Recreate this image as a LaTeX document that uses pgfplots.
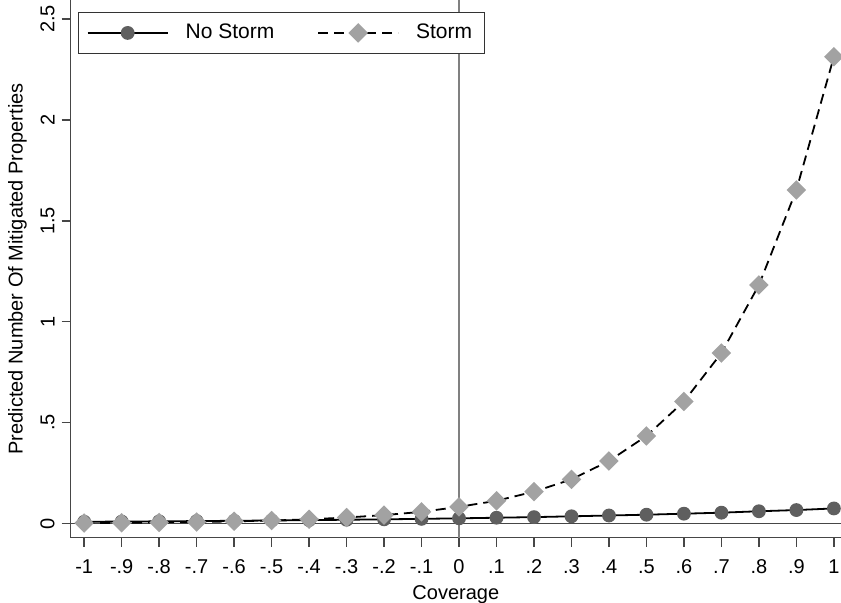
\documentclass[border=0pt]{standalone}
\usepackage{fontspec}
\setmainfont{Liberation Sans}
\usepackage{pgfplots}
\pgfplotsset{compat=1.18}

\definecolor{nostorm}{RGB}{95,95,95}
\definecolor{storm}{RGB}{162,162,162}
\definecolor{axisgray}{RGB}{70,70,70}

\begin{document}
\begin{tikzpicture}
\begin{axis}[
    scale only axis,
    width=385.15pt, height=268.85pt,
    xmin=-1.036, xmax=1.019,
    ymin=-0.070, ymax=2.594,
    axis x line*=bottom, axis y line*=left,
    axis line style={axisgray, line width=0.7pt},
    tick align=outside,
    major tick length=4.5pt,
    tick style={axisgray, line width=0.7pt},
    xtick={-1,-0.9,-0.8,-0.7,-0.6,-0.5,-0.4,-0.3,-0.2,-0.1,0,0.1,0.2,0.3,0.4,0.5,0.6,0.7,0.8,0.9,1},
    xticklabels={-1,-.9,-.8,-.7,-.6,-.5,-.4,-.3,-.2,-.1,0,.1,.2,.3,.4,.5,.6,.7,.8,.9,1},
    ytick={0,0.5,1,1.5,2,2.5},
    yticklabels={0,.5,1,1.5,2,2.5},
    tick label style={font=\fontsize{10}{12}\selectfont},
    xticklabel style={yshift=-3pt},
    yticklabel style={rotate=90, anchor=south},
    xlabel={Coverage},
    ylabel={Predicted Number Of Mitigated Properties},
    label style={font=\fontsize{10}{12}\selectfont},
    xlabel style={yshift=1pt},
    legend style={
        at={(axis description cs:0,1)}, anchor=north west,
        xshift=3.8pt, yshift=-5.8pt,
        draw=black!80, fill=white, line width=0.5pt,
        legend columns=2,
        /tikz/every odd column/.append style={column sep=6.5pt},
        /tikz/every even column/.append style={column sep=19.5pt},
        font=\fontsize{10.5}{12}\selectfont,
        inner xsep=4pt, inner ysep=4pt,
    },
    legend cell align={left},
    legend image code/.code={
        \draw[mark repeat=2, mark phase=2]
            plot coordinates {(0pt,0pt) (20pt,0pt) (40pt,0pt)};
    },
]

\coordinate (sw) at (rel axis cs:0,0);
\coordinate (ne) at (rel axis cs:1,1);

% reference lines at x=0 and y=0
\draw[gray, line width=0.8pt] (axis cs:0,-0.070) -- (axis cs:0,2.594);
\draw[axisgray, line width=0.8pt] (axis cs:-1.036,0) -- (axis cs:1.019,0);

% No Storm
\addplot[black, line width=0.9pt, mark=*, mark size=3pt,
    mark options={solid, fill=nostorm, draw=nostorm}] coordinates {
    (-1,0.009) (-0.9,0.010) (-0.8,0.0111) (-0.7,0.0124) (-0.6,0.0138)
    (-0.5,0.0153) (-0.4,0.017) (-0.3,0.019) (-0.2,0.021) (-0.1,0.0234)
    (0,0.026) (0.1,0.029) (0.2,0.032) (0.3,0.036) (0.4,0.040)
    (0.5,0.044) (0.6,0.049) (0.7,0.054) (0.8,0.061) (0.9,0.067) (1,0.075)
};

% Storm
\addplot[black, line width=0.9pt, dash pattern=on 5pt off 3pt,
    mark=square*, mark size=3pt,
    mark options={solid, rotate=45, fill=storm, draw=storm}] coordinates {
    (-1,0.0028) (-0.9,0.0039) (-0.8,0.0055) (-0.7,0.0077) (-0.6,0.011)
    (-0.5,0.015) (-0.4,0.021) (-0.3,0.030) (-0.2,0.042) (-0.1,0.058)
    (0,0.083) (0.1,0.113) (0.2,0.158) (0.3,0.219) (0.4,0.310)
    (0.5,0.434) (0.6,0.605) (0.7,0.845) (0.8,1.182) (0.9,1.653) (1,2.313)
};

\legend{No Storm, Storm}
\end{axis}
\pgfresetboundingbox
\path (sw) ++(-35.35pt,-32.15pt) rectangle (ne);
\end{tikzpicture}
\end{document}
